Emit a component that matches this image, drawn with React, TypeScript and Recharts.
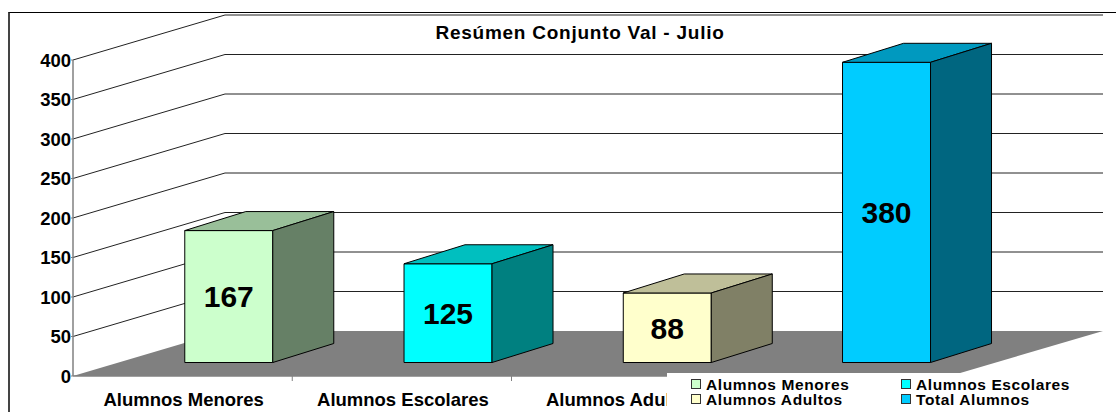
import React from 'react';
import { BarChart, Bar, XAxis, YAxis, CartesianGrid, LabelList, Legend } from 'recharts';

const categories = ['Alumnos Menores', 'Alumnos Escolares', 'Alumnos Adultos', 'Total Alumnos'];
const values = [167, 125, 88, 380];
const yTicks = [0, 50, 100, 150, 200, 250, 300, 350, 400];

const frontColors = ['#CCFFCC', '#00FFFF', '#FFFFCC', '#00CCFF'];
const topColors = ['#99BF99', '#00BFBF', '#BFBF99', '#0099BF'];
const sideColors = ['#668066', '#008080', '#808066', '#006680'];

const data = categories.map((name, i) => ({ name, value: values[i] }));

const FONT = '"Liberation Sans", Arial, sans-serif';

// fake 3d: bars sit in the middle of the floor, depth goes up and to the right
const SHIFT_X = 46;
const SHIFT_Y = -13.5;
const DEPTH_X = 61;
const DEPTH_Y = -19;
// walls
const WALL_X = 152;
const WALL_Y = -45;
const PLOT_W = 877;
const BACK_W = 1030;
const AXIS_Y = 376;
const LEGEND_LEFT = 667;

const Bar3D = (props: any) => {
  const { x, y, width, height, index } = props;
  const l = x + SHIFT_X;
  const r = l + width;
  const t = y + SHIFT_Y;
  const b = t + height;
  return (
    <g stroke="#000" strokeWidth={1} strokeLinejoin="round">
      <rect x={l} y={t} width={width} height={height} fill={frontColors[index]} />
      <polygon
        points={`${l},${t} ${l + DEPTH_X},${t + DEPTH_Y} ${r + DEPTH_X},${t + DEPTH_Y} ${r},${t}`}
        fill={topColors[index]}
      />
      <polygon
        points={`${r},${t} ${r + DEPTH_X},${t + DEPTH_Y} ${r + DEPTH_X},${b + DEPTH_Y} ${r},${b}`}
        fill={sideColors[index]}
      />
    </g>
  );
};

const GridLine3D = (props: any) => {
  const { x1, y1 } = props;
  const isFloor = Math.abs(y1 - AXIS_Y) < 1;
  if (isFloor) {
    return (
      <polygon
        points={`${x1},${y1} ${x1 + WALL_X},${y1 + WALL_Y} ${x1 + BACK_W},${y1 + WALL_Y} ${x1 + PLOT_W},${y1}`}
        fill="#808080"
      />
    );
  }
  return (
    <polyline
      points={`${x1},${y1} ${x1 + WALL_X},${y1 + WALL_Y} ${x1 + BACK_W},${y1 + WALL_Y}`}
      fill="none"
      stroke="#222"
      strokeWidth={1}
    />
  );
};

const BarValue = (props: any) => {
  const { x, y, width, height, value } = props;
  return (
    <text
      x={x + SHIFT_X + width / 2}
      y={y + SHIFT_Y + height / 2}
      dy="0.36em"
      textAnchor="middle"
      fontFamily={FONT}
      fontWeight="bold"
      fontSize={30}
      fill="#000"
    >
      {value}
    </text>
  );
};

const CategoryTick = (props: any) => {
  const { x, payload } = props;
  // the legend box covers the last label completely in the original
  const covered = x - 60 > LEGEND_LEFT;
  return (
    <g>
      <line x1={x + PLOT_W / 8} y1={AXIS_Y} x2={x + PLOT_W / 8} y2={AXIS_Y + 5} stroke="#808080" />
      {!covered && (
        <text
          x={x + 1}
          y={AXIS_Y + 30}
          textAnchor="middle"
          fontFamily={FONT}
          fontWeight="bold"
          fontSize={18.5}
          fill="#000"
        >
          {payload.value}
        </text>
      )}
    </g>
  );
};

const LegendBox = () => (
  <div
    style={{
      display: 'grid',
      gridTemplateColumns: '210px 210px',
      paddingLeft: 24,
      paddingTop: 3.5,
      fontFamily: FONT,
      fontWeight: 'bold',
      fontSize: 15.5,
      lineHeight: '15px',
      letterSpacing: 0.6,
      color: '#000',
    }}
  >
    {categories.map((name, i) => (
      <div key={name} style={{ display: 'flex', alignItems: 'center', whiteSpace: 'nowrap' }}>
        <span
          style={{
            width: 8,
            height: 8,
            marginRight: 5,
            border: '1px solid #333',
            background: frontColors[i],
          }}
        />
        {name}
      </div>
    ))}
  </div>
);

export default function App() {
  return (
    <div style={{ position: 'absolute', left: 0, top: 0, width: 1116, height: 412, background: '#fff', overflow: 'hidden' }}>
      <div
        style={{
          position: 'absolute',
          left: 8,
          top: 12,
          width: 1108,
          height: 400,
          borderTop: '1.5px solid #000',
          borderLeft: '2px solid #444',
          boxSizing: 'border-box',
        }}
      />
      <div style={{ position: 'absolute', left: 0, top: 0 }}>
        <BarChart
          width={1116}
          height={412}
          data={data}
          margin={{ top: 60, right: 166, bottom: 0, left: 0 }}
          barCategoryGap="30%"
        >
          <CartesianGrid vertical={false} horizontal={GridLine3D} />
          <XAxis
            dataKey="name"
            height={36}
            interval={0}
            axisLine={{ stroke: '#808080', strokeWidth: 1.5 }}
            tickLine={false}
            tick={CategoryTick}
          />
          <YAxis
            width={73}
            domain={[0, 400]}
            ticks={yTicks}
            axisLine={{ stroke: '#808080', strokeWidth: 1.5 }}
            tickLine={{ stroke: '#808080' }}
            tickSize={2}
            tickMargin={0}
            tick={{ fontFamily: FONT, fontWeight: 'bold', fontSize: 18.5, fill: '#000' }}
          />
          <Bar dataKey="value" shape={Bar3D} isAnimationActive={false}>
            <LabelList dataKey="value" content={BarValue} />
          </Bar>
          <text
            x={580}
            y={39}
            textAnchor="middle"
            fontFamily={FONT}
            fontWeight="bold"
            fontSize={19}
            letterSpacing={0.75}
            fill="#000"
          >
            Resúmen Conjunto Val - Julio
          </text>
          <Legend
            layout="horizontal"
            verticalAlign="middle"
            content={LegendBox}
            wrapperStyle={{ position: 'absolute', left: LEGEND_LEFT, top: 373, width: 449, height: 39, background: '#fff' }}
          />
        </BarChart>
      </div>
    </div>
  );
}
